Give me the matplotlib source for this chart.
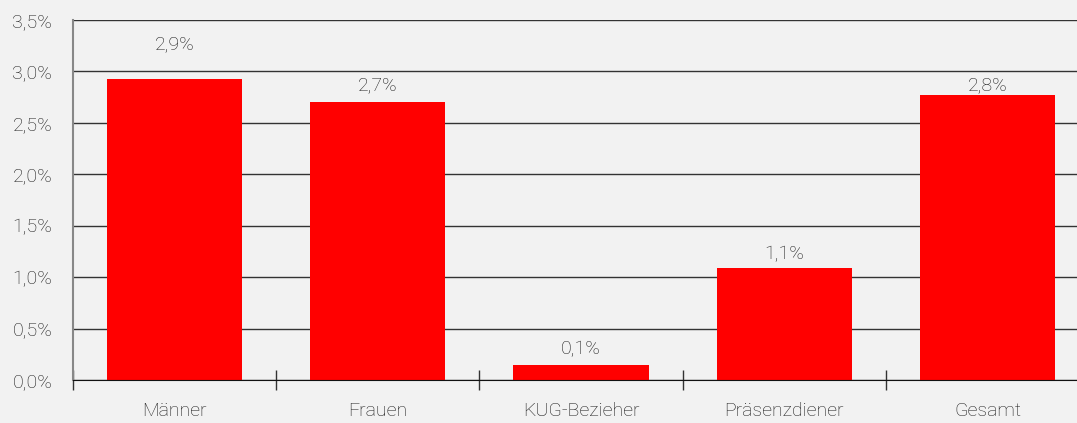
import matplotlib.pyplot as plt
import numpy as np

categories = ['Männer', 'Frauen', 'KUG-Bezieher', 'Präsenzdiener', 'Gesamt']
values = [2.925, 2.70, 0.145, 1.09, 2.77]
labels = ['2,9%', '2,7%', '0,1%', '1,1%', '2,8%']
yticks = [0, 0.5, 1.0, 1.5, 2.0, 2.5, 3.0, 3.5]

plt.rcParams['font.family'] = ['Roboto', 'DejaVu Sans']
txt = dict(fontsize=14, fontweight='light', color='#1a1a1a')

fig = plt.figure(figsize=(10.77, 4.23), dpi=100, facecolor='#f2f2f2')
ax = fig.add_axes([73 / 1077, 43 / 423, 1016 / 1077, 360 / 423])
ax.set_facecolor('#f2f2f2')

x = np.arange(len(categories))
ax.bar(x, values, width=0.665, color='#ff0000', zorder=3)
# label offsets as placed in the original
offsets = [0.34, 0.17, 0.15, 0.13, 0.10]
for xi, v, lab, off in zip(x, values, labels, offsets):
    ax.text(xi, v + off, lab, ha='center', va='center', zorder=4, **txt)

ax.set_xlim(-0.5, len(categories) - 0.5)
ax.set_ylim(0, 3.5)
ax.set_yticks(yticks)
ax.set_yticklabels([f'{t:.1f}%'.replace('.', ',') for t in yticks], **txt)
ax.set_xticks(x)
ax.set_xticklabels(categories, **txt)
ax.tick_params(axis='x', length=0, pad=16)
ax.set_xticks(np.arange(len(categories) + 1) - 0.5, minor=True)
ax.tick_params(axis='x', which='minor', direction='inout', length=14, width=1, color='#333333')
ax.tick_params(axis='y', length=0, pad=15)

ax.grid(axis='y', color='#333333', linewidth=1, zorder=1)
for s in ['top', 'right']:
    ax.spines[s].set_visible(False)
ax.spines['left'].set_color('#888888')
ax.spines['left'].set_linewidth(1.5)
ax.spines['bottom'].set_color('#111111')
ax.spines['bottom'].set_zorder(5)

fig.savefig('out.png', dpi=100, facecolor=fig.get_facecolor())
